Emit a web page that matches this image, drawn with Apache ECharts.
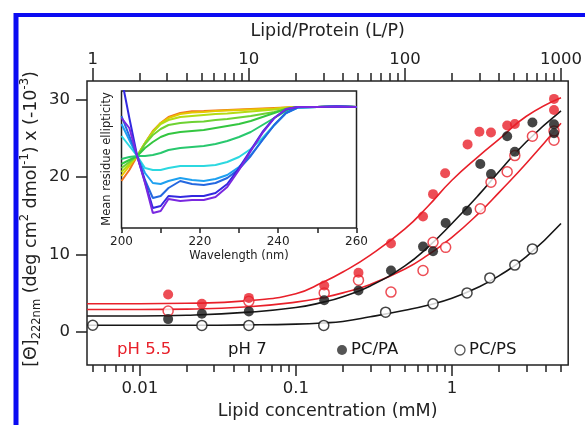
<!DOCTYPE html>
<html>
<head>
<meta charset="utf-8">
<script src="https://cdn.jsdelivr.net/npm/echarts@6/dist/echarts.min.js"></script>
<style>
  html, body { margin: 0; padding: 0; background: #fff; }
  #chart { width: 585px; height: 425px; }
</style>
</head>
<body>
<div id="chart"></div>
<script>
// ---- main plot: lipid concentration (mM) vs [Θ]222 ----
const fitConc = [0.0046, 0.01, 0.02, 0.05, 0.1, 0.15, 0.2, 0.3, 0.5, 0.7, 1, 1.5, 2, 3, 5];
const fitPaPh55 = [3.6, 3.6, 3.65, 4.0, 4.9, 6.4, 7.7, 9.9, 13.3, 16.2, 19.6, 22.8, 24.9, 27.9, 30.3];
const fitPaPh7 = [2.0, 2.0, 2.1, 2.5, 3.1, 3.8, 4.5, 5.9, 8.5, 10.9, 14.0, 17.8, 20.7, 24.6, 28.6];
const fitPsPh55 = [2.85, 2.85, 2.9, 3.2, 3.8, 4.4, 5.0, 6.1, 8.1, 9.9, 12.2, 15.4, 18.0, 21.8, 27.0];
const fitPsPh7 = [0.8, 0.8, 0.8, 0.85, 0.95, 1.1, 1.3, 1.9, 2.75, 3.4, 4.3, 5.8, 7.2, 9.7, 14.0];

const paPh55Conc = [0.0152, 0.025, 0.05, 0.152, 0.252, 0.407, 0.653, 0.757, 0.905, 1.26, 1.5, 1.78, 2.26, 2.53, 4.51, 4.51];
const paPh55Val = [4.8, 3.6, 4.35, 5.95, 7.6, 11.4, 14.9, 17.8, 20.5, 24.25, 25.9, 25.8, 26.7, 26.9, 30.15, 28.7];

const paPh7Conc = [0.0152, 0.025, 0.05, 0.152, 0.252, 0.407, 0.653, 0.757, 0.912, 1.25, 1.52, 1.78, 2.26, 2.53, 3.28, 4.51, 4.51];
const paPh7Val = [1.6, 2.3, 2.6, 4.05, 5.3, 7.9, 11.0, 10.4, 14.05, 15.65, 21.7, 20.4, 25.3, 23.3, 27.1, 26.85, 25.7];

const psPh55Conc = [0.0152, 0.05, 0.152, 0.252, 0.407, 0.653, 0.757, 0.912, 1.52, 1.78, 2.26, 2.53, 3.28, 4.51, 4.51];
const psPh55Val = [2.65, 3.9, 5.0, 6.65, 5.1, 7.9, 11.55, 10.9, 15.9, 19.35, 20.7, 22.8, 25.3, 24.8, 26.0];

const psPh7Conc = [0.005, 0.025, 0.05, 0.151, 0.376, 0.757, 1.25, 1.75, 2.53, 3.28];
const psPh7Val = [0.8, 0.78, 0.78, 0.78, 2.5, 3.58, 5.0, 6.94, 8.6, 10.7];

// axis ticks
const concTicks = [0.01, 0.1, 1];
const concTickLabels = ['0.01', '0.1', '1'];
const concMinor = [0.005, 0.006, 0.007, 0.008, 0.009, 0.02, 0.03, 0.04, 0.05, 0.06, 0.07, 0.08, 0.09,
  0.2, 0.3, 0.4, 0.5, 0.6, 0.7, 0.8, 0.9, 2, 3, 4, 5];
const lpTicks = [1, 10, 100, 1000];
const lpTickLabels = ['1', '10', '100', '1000'];
const lpMinor = [2, 3, 4, 5, 6, 7, 8, 9, 20, 30, 40, 50, 60, 70, 80, 90, 200, 300, 400, 500, 600, 700, 800, 900];
const thetaTicks = [0, 10, 20, 30];

// ---- inset: CD spectra (arbitrary units) ----
const wavelength = [200, 202, 204, 206, 208, 210, 212, 215, 218, 221, 224, 227, 230, 233, 236, 239, 242, 245, 250, 255, 260];
const cdOrange = [47, 58, 72, 85, 97, 105, 111, 115, 116.7, 117, 117.5, 118, 118.5, 119, 119.5, 120, 120.5, 121, 121, 121.5, 121];
const cdYellow = [52, 62, 72, 85, 96, 105, 110, 114, 115.5, 116, 117, 117.5, 118, 118.5, 119, 119.5, 120.5, 121, 121, 121.5, 121];
const cdYellowGreen = [56, 64, 72, 85, 96, 104, 108, 111, 112, 113, 114, 114.5, 115.5, 116.5, 117.5, 118.5, 120, 121, 121, 121.5, 121];
const cdLime = [60, 66, 72, 84, 93, 99, 103, 105, 106, 106.5, 108, 109, 110.5, 112, 114, 116, 119, 121, 121, 121.5, 121];
const cdGreen = [64, 68, 72, 80, 86, 91, 94, 96, 97, 98, 100, 102, 104, 107, 111, 115, 119, 121, 121, 121.5, 121];
const cdTeal = [69, 71, 72, 72, 73, 75, 78, 80, 81, 82, 84, 87, 91, 96, 103, 110, 117, 120.5, 121, 121.5, 121];
const cdCyan = [92, 82, 72, 60, 58, 58, 60, 62, 62, 62, 63, 66, 71, 79, 90, 103, 115, 120.5, 121, 121.5, 121];
const cdSky = [104, 88, 72, 55, 45, 44, 47, 50, 48, 47, 49, 53, 61, 73, 88, 103, 115, 120.5, 121, 121.5, 121];
const cdBlue = [112, 92, 72, 48, 30, 32, 40, 47, 44, 43, 45, 50, 59, 72, 88, 103, 115, 120.5, 121, 121.5, 121];
const cdIndigo = [150, 110, 72, 46, 20, 22, 32, 31, 32, 32, 35, 44, 60, 78, 96, 110, 118.5, 121, 121, 121.5, 121];
const cdPurple = [110, 100, 72, 45, 15, 17, 29, 27, 28, 28, 31, 41, 58, 77, 95, 110, 119, 121, 121, 121.5, 121];
const cdSpectra = [
  ['#f0731e', cdOrange], ['#e6c800', cdYellow], ['#b4dc14', cdYellowGreen], ['#6ed232', cdLime],
  ['#34c640', cdGreen], ['#28c86e', cdTeal], ['#2cd8e0', cdCyan], ['#1ea0f0', cdSky],
  ['#2468e0', cdBlue], ['#3228e0', cdIndigo], ['#7a28e0', cdPurple]
];

const FONT = 'DejaVu Sans';
const INK = '#222';
const RED = '#e8202a';
const BLACK = '#161616';
const log10 = Math.log10;

function logPairs(xs, ys) {
  return xs.map((x, i) => [log10(x), ys[i]]);
}
function pickLabel(ticks, labels) {
  return v => {
    const i = ticks.findIndex(t => Math.abs(log10(t) - v) < 1e-3);
    return i >= 0 ? labels[i] : '';
  };
}

const chart = echarts.init(document.getElementById('chart'), null, { renderer: 'canvas' });

const tickLine = { color: INK, width: 1.5 };
const noLine = { show: false, onZero: false };
const labelStyle = { color: INK, fontFamily: FONT, fontSize: 16.5 };
const nameStyle = { color: INK, fontFamily: FONT, fontSize: 17.5 };

const option = {
  animation: false,
  backgroundColor: '#fff',
  grid: [
    { left: 87, top: 81, right: 14, bottom: 59, show: true, borderColor: INK, borderWidth: 1.5 },
    { left: 121.5, top: 91, width: 235, height: 137, show: true, borderColor: INK, borderWidth: 1.5 }
  ],
  xAxis: [
    { // bottom, decades
      type: 'value', gridIndex: 0, position: 'bottom', min: -2.338, max: 0.745,
      axisLine: noLine, splitLine: { show: false },
      axisTick: { length: 11, lineStyle: tickLine, customValues: concTicks.map(log10) },
      axisLabel: { ...labelStyle, margin: 15, customValues: concTicks.map(log10),
        formatter: pickLabel(concTicks, concTickLabels) },
      name: 'Lipid concentration (mM)', nameLocation: 'middle', nameGap: 37, nameTextStyle: nameStyle
    },
    { // bottom, minor ticks
      type: 'value', gridIndex: 0, position: 'bottom', min: -2.338, max: 0.745,
      axisLine: noLine, splitLine: { show: false }, axisLabel: { show: false },
      axisTick: { length: 7, lineStyle: tickLine, customValues: concMinor.map(log10) }
    },
    { // top, lipid/protein decades
      type: 'value', gridIndex: 0, position: 'top', min: -0.037, max: 3.046,
      axisLine: noLine, splitLine: { show: false },
      axisTick: { length: 13, lineStyle: tickLine, customValues: lpTicks.map(log10) },
      axisLabel: { ...labelStyle, margin: 13, customValues: lpTicks.map(log10),
        formatter: pickLabel(lpTicks, lpTickLabels) },
      name: 'Lipid/Protein (L/P)', nameLocation: 'middle', nameGap: 41, nameTextStyle: nameStyle
    },
    { // top, minor ticks
      type: 'value', gridIndex: 0, position: 'top', min: -0.037, max: 3.046,
      axisLine: noLine, splitLine: { show: false }, axisLabel: { show: false },
      axisTick: { length: 8, lineStyle: tickLine, customValues: lpMinor.map(log10) }
    },
    { // inset wavelength
      type: 'value', gridIndex: 1, min: 200, max: 260, interval: 10,
      axisLine: noLine, splitLine: { show: false },
      axisTick: { length: 5, lineStyle: tickLine },
      axisLabel: { color: INK, fontFamily: FONT, fontSize: 12, margin: 8,
        formatter: v => (v % 20 === 0 ? String(v) : '') },
      name: 'Wavelength (nm)', nameLocation: 'middle', nameGap: 22,
      nameTextStyle: { color: INK, fontFamily: FONT, fontSize: 11.5 }
    }
  ],
  yAxis: [
    {
      type: 'value', gridIndex: 0, position: 'left', min: -4.35, max: 32.47,
      axisLine: noLine, splitLine: { show: false },
      axisTick: { length: 11, lineStyle: tickLine, customValues: thetaTicks },
      axisLabel: { ...labelStyle, margin: 17, customValues: thetaTicks }
    },
    {
      type: 'value', gridIndex: 1, min: 0, max: 137,
      axisLine: noLine, splitLine: { show: false },
      axisTick: { show: false }, axisLabel: { show: false }
    }
  ],
  graphic: [
    // blue frame of the figure
    { type: 'rect', shape: { x: 14, y: 13, width: 571, height: 4 }, style: { fill: '#0b0bf2' } },
    { type: 'rect', shape: { x: 13.5, y: 13, width: 5, height: 412 }, style: { fill: '#0b0bf2' } },
    // y title
    {
      type: 'text', x: 31, y: 219, rotation: Math.PI / 2,
      style: {
        text: '[Θ]{sub|222nm} (deg cm{sup|2} dmol{sup|-1}) x (-10{sup|-3})',
        fill: INK, fontFamily: FONT, fontSize: 17.5, lineHeight: 24,
        align: 'center', verticalAlign: 'middle',
        rich: {
          sub: { fontFamily: FONT, fontSize: 11.5, fill: INK, verticalAlign: 'bottom' },
          sup: { fontFamily: FONT, fontSize: 11.5, fill: INK, verticalAlign: 'top' }
        }
      }
    },
    // inset y title
    {
      type: 'text', x: 107, y: 159, rotation: Math.PI / 2,
      style: { text: 'Mean residue ellipticity', fill: INK, fontFamily: FONT, fontSize: 11.5,
        align: 'center', verticalAlign: 'middle' }
    },
    // legend
    { type: 'text', x: 117, y: 350, style: { text: 'pH 5.5', fill: RED, fontFamily: FONT, fontSize: 16.5, verticalAlign: 'middle' } },
    { type: 'text', x: 228, y: 350, style: { text: 'pH 7', fill: BLACK, fontFamily: FONT, fontSize: 16.5, verticalAlign: 'middle' } },
    { type: 'circle', shape: { cx: 342, cy: 350, r: 5 }, style: { fill: '#555' } },
    { type: 'text', x: 351, y: 350, style: { text: 'PC/PA', fill: BLACK, fontFamily: FONT, fontSize: 16.5, verticalAlign: 'middle' } },
    { type: 'circle', shape: { cx: 460, cy: 350, r: 5 }, style: { fill: '#fff', stroke: '#555', lineWidth: 1.3 } },
    { type: 'text', x: 469, y: 350, style: { text: 'PC/PS', fill: BLACK, fontFamily: FONT, fontSize: 16.5, verticalAlign: 'middle' } }
  ],
  series: []
};

// fitted curves
[[fitPaPh55, RED], [fitPsPh55, RED], [fitPaPh7, BLACK], [fitPsPh7, BLACK]].forEach(([vals, color]) => {
  option.series.push({
    type: 'line', xAxisIndex: 0, yAxisIndex: 0, data: logPairs(fitConc, vals),
    symbol: 'none', smooth: true, lineStyle: { color, width: 1.6 }, z: 2
  });
});

// measured points
[
  [psPh7Conc, psPh7Val, BLACK, true],
  [psPh55Conc, psPh55Val, RED, true],
  [paPh7Conc, paPh7Val, BLACK, false],
  [paPh55Conc, paPh55Val, RED, false]
].forEach(([xs, ys, color, open]) => {
  option.series.push({
    type: 'scatter', xAxisIndex: 0, yAxisIndex: 0, data: logPairs(xs, ys),
    symbol: 'circle', symbolSize: 10, z: 3,
    itemStyle: open ? { color: '#fff', borderColor: color, borderWidth: 1.5 } : { color }
  });
});

// inset spectra
cdSpectra.forEach(([color, vals]) => {
  option.series.push({
    type: 'line', xAxisIndex: 4, yAxisIndex: 1,
    data: wavelength.map((w, i) => [w, vals[i]]),
    symbol: 'none', clip: true, lineStyle: { color, width: 2 }, z: 2
  });
});

chart.setOption(option);
</script>
</body>
</html>
